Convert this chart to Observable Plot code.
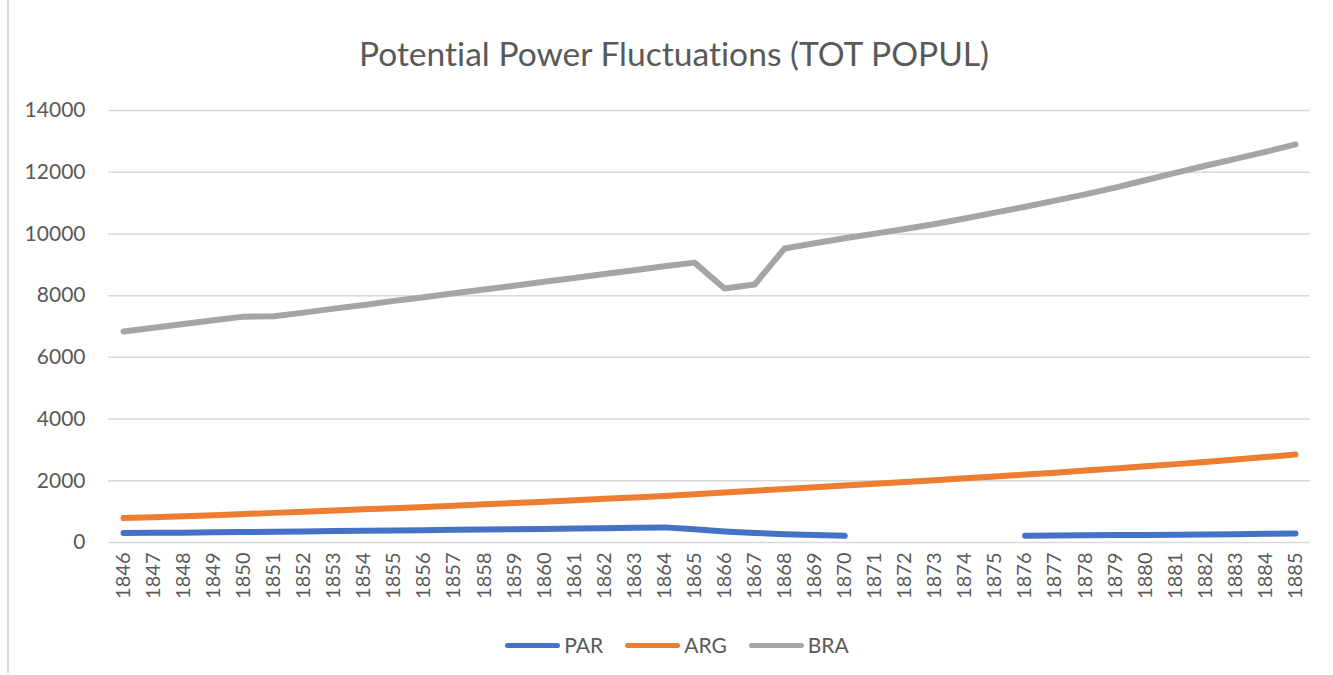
<!DOCTYPE html>
<html>
<head>
<meta charset="utf-8">
<script src="https://cdn.jsdelivr.net/npm/d3@7"></script>
<script src="https://cdn.jsdelivr.net/npm/@observablehq/plot@0.6"></script>
<style>
  html, body { margin: 0; padding: 0; background: #fff; }
  body { width: 1333px; height: 675px; overflow: hidden; position: relative; font-family: Lato, "Open Sans", sans-serif; color: #595959; font-variant-ligatures: none; }
  #frame { position: absolute; left: 7px; top: 0; width: 2px; height: 673px; background: #d9d9d9; }
  #title { position: absolute; left: 0; width: 1348px; top: 37px; text-align: center; font-size: 33.6px; line-height: 32px; color: #595959; white-space: nowrap; font-variant-ligatures: none; font-feature-settings: "liga" 0, "dlig" 0; }
  #chart { position: absolute; left: 0; top: 0; }
  #legend { position: absolute; left: 0; width: 1354px; top: 633px; display: flex; justify-content: center; align-items: center; font-size: 21px; line-height: 24px; color: #595959; }
  #legend .item { display: flex; align-items: center; margin: 0 11px; }
  #legend .sw { width: 55px; height: 5px; border-radius: 3px; margin-right: 4px; }
</style>
</head>
<body>
<div id="frame"></div>
<div id="chart"></div>
<div id="title">Potential Power Fluctuations (TOT POPUL)</div>
<div id="legend"></div>
<script>
const years = [1846,1847,1848,1849,1850,1851,1852,1853,1854,1855,1856,1857,1858,1859,1860,1861,1862,1863,1864,1865,1866,1867,1868,1869,1870,1871,1872,1873,1874,1875,1876,1877,1878,1879,1880,1881,1882,1883,1884,1885];
const seriesNames = ["PAR", "ARG", "BRA"];
const seriesColors = ["#4472C4", "#ED7D31", "#A5A5A5"];
const yTicks = [0, 2000, 4000, 6000, 8000, 10000, 12000, 14000];

const PAR = [310,315,320,330,340,350,360,370,380,390,400,410,420,430,440,455,465,480,490,430,360,310,270,240,215,null,null,null,null,null,220,225,235,240,245,250,260,270,280,290];
const ARG = [790,820,850,880,920,960,1000,1040,1080,1110,1150,1190,1240,1280,1320,1370,1420,1460,1510,1560,1620,1680,1730,1790,1850,1900,1960,2020,2080,2140,2200,2260,2330,2400,2470,2540,2610,2690,2770,2850];
const BRA = [6840,6960,7080,7200,7320,7330,7450,7580,7700,7830,7950,8080,8200,8320,8450,8570,8700,8820,8950,9070,8230,8360,9530,9700,9860,10010,10160,10320,10500,10690,10880,11080,11280,11500,11740,11980,12210,12430,12660,12900];

const values = {PAR, ARG, BRA};
const data = [];
for (const s of seriesNames) {
  years.forEach((yr, i) => data.push({series: s, year: yr, value: values[s][i] == null ? NaN : values[s][i]}));
}

const W = 1333, H = 675;
const chart = Plot.plot({
  width: W,
  height: H,
  marginLeft: 108,
  marginRight: 23,
  marginTop: 110,
  marginBottom: 133,
  style: {fontFamily: "Lato, 'Open Sans', sans-serif", fontSize: "21px", color: "#595959", background: "transparent"},
  x: {type: "linear", domain: [1845.5, 1885.5]},
  y: {domain: [0, 14000]},
  color: {domain: seriesNames, range: seriesColors},
  marks: [
    Plot.ruleY(yTicks, {stroke: "#d9d9d9", strokeWidth: 1.5}),
    Plot.axisY({ticks: yTicks, tickSize: 0, tickPadding: 23, tickFormat: d => String(d), label: null, fontSize: 21}),
    Plot.axisX({ticks: years, tickSize: 0, tickPadding: 10, tickRotate: -90, tickFormat: d => String(d), label: null, fontSize: 20}),
    Plot.line(data, {x: "year", y: "value", z: "series", stroke: "series", strokeWidth: 6, strokeLinecap: "round", strokeLinejoin: "round"})
  ]
});
document.getElementById("chart").appendChild(chart);

const legend = document.getElementById("legend");
seriesNames.forEach((s, i) => {
  const item = document.createElement("div");
  item.className = "item";
  const sw = document.createElement("span");
  sw.className = "sw";
  sw.style.background = seriesColors[i];
  const t = document.createElement("span");
  t.textContent = s;
  item.appendChild(sw);
  item.appendChild(t);
  legend.appendChild(item);
});
</script>
</body>
</html>
